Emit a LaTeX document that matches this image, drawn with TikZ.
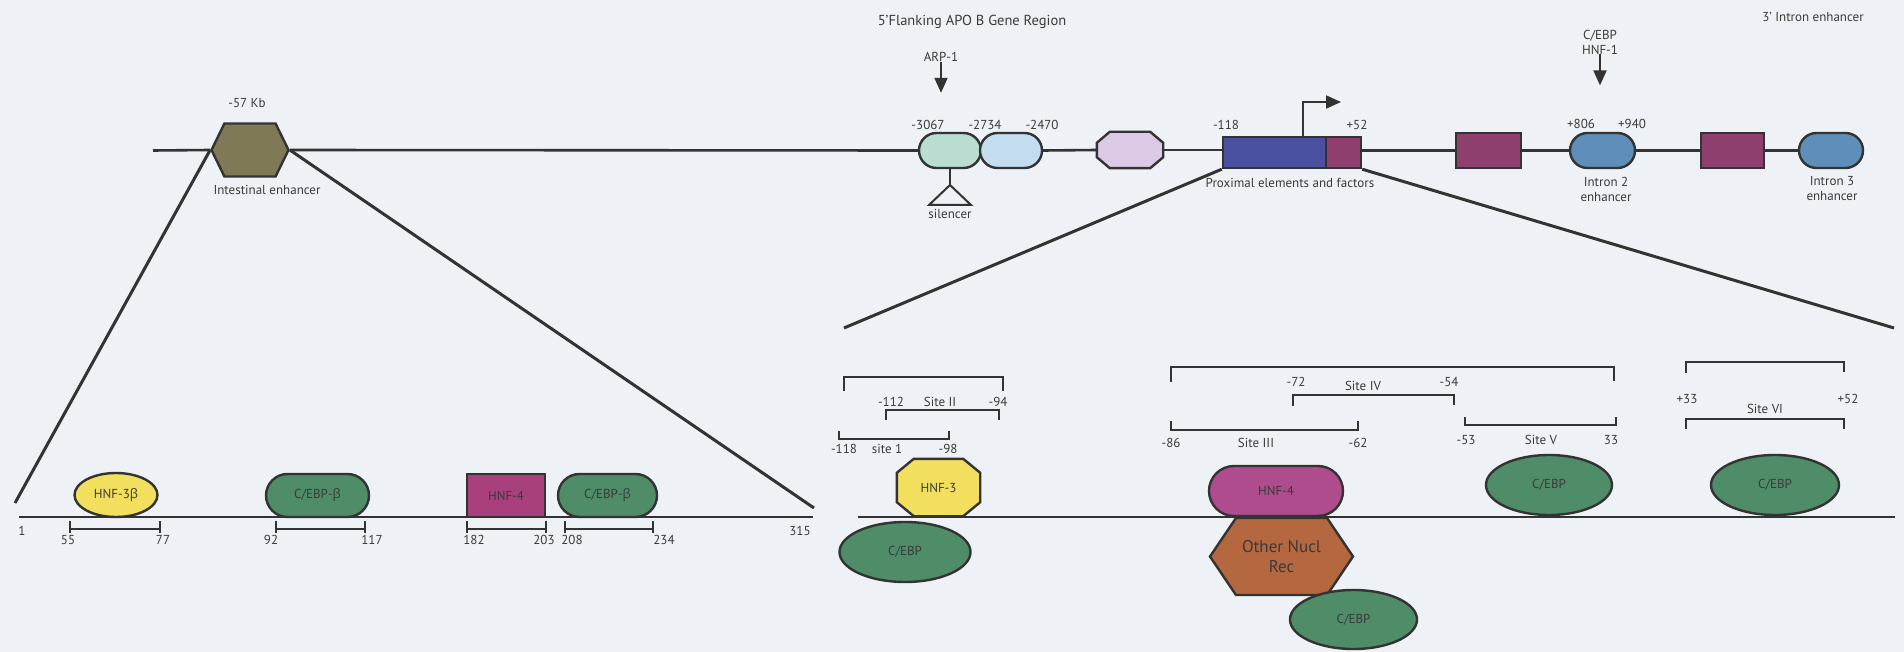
\documentclass[tikz,border=0pt]{standalone}
\usepackage{fontspec}
\setmainfont{PT Sans}
\newfontfamily\grk{Open Sans}
\usetikzlibrary{shapes.geometric,shapes.misc,shapes.symbols,arrows.meta,calc}
\definecolor{bg}{HTML}{EEF1F5}
\definecolor{ink}{HTML}{333333}
\definecolor{txt}{HTML}{3A3A3A}
\definecolor{olive}{HTML}{7F7A55}
\definecolor{mint}{HTML}{B9DDD1}
\definecolor{ltblue}{HTML}{C3DCF0}
\definecolor{lav}{HTML}{DCC9E6}
\definecolor{slate}{HTML}{4B50A0}
\definecolor{plum}{HTML}{8E3F6E}
\definecolor{steel}{HTML}{5D8FBA}
\definecolor{yel}{HTML}{F3DF5E}
\definecolor{grn}{HTML}{4F8C68}
\definecolor{mag}{HTML}{A8407E}
\definecolor{mag2}{HTML}{AF4C8D}
\definecolor{sienna}{HTML}{B5673F}
\tikzset{
  lbl/.style={font=\fontsize{13}{15}\selectfont, text=txt, inner sep=0pt, align=center},
  shp/.style={draw=ink, line width=2.4pt, inner sep=0pt, font=\fontsize{13}{15}\selectfont, text=txt},
  rbox/.style={shp, rounded rectangle},
  rect/.style={shp, rectangle},
  oval/.style={shp, ellipse},
  frame/.style={rectangle, inner sep=0pt},
  hexa/.style={shp, signal, signal to=east and west, signal pointer angle=#1},
  dna/.style={draw=ink, line width=2.6pt},
  conn/.style={draw=ink, line width=3pt},
  brk/.style={draw=ink, line width=2pt},
  arr/.style={draw=ink, line width=2pt, -{Triangle[length=15pt, width=13pt]}},
}
% octagon drawn inside the frame of a named node: name, x-chamfer, y-chamfer, fill
\newcommand{\octo}[4]{%
  \filldraw[draw=ink, line width=2.4pt, fill=#4, line join=miter]
    ($(#1.north west)+(#2,0)$) -- ($(#1.north east)+(-#2,0)$) --
    ($(#1.north east)+(0,#3)$) -- ($(#1.south east)+(0,-#3)$) --
    ($(#1.south east)+(-#2,0)$) -- ($(#1.south west)+(#2,0)$) --
    ($(#1.south west)+(0,-#3)$) -- ($(#1.north west)+(0,#3)$) -- cycle;}
\begin{document}
\begin{tikzpicture}[x=1pt, y=-1pt]
\fill[bg] (0,0) rectangle (1904,652);
\useasboundingbox (0,0) rectangle (1904,652);

% ---------- top row ----------
\node[lbl, font=\fontsize{14.5}{16}\selectfont] (ttl1) at (972,22) {5'Flanking APO B Gene Region};
\node[lbl] (ttl2) at (1813,17) {3' Intron enhancer};

\node[hexa=128, fill=olive, minimum width=77pt, minimum height=53pt] (ie) at (250,150) {};
\node[lbl] (kb) at (247,103) {-57 Kb};
\node[lbl] (iel) at (267,190) {Intestinal enhancer};

\node[rbox, fill=mint, minimum width=62pt, minimum height=35pt] (b1) at (950,150.5) {};
\node[rbox, fill=ltblue, minimum width=62pt, minimum height=35pt] (b2) at (1011,150.5) {};
\node[frame, minimum width=66pt, minimum height=36pt] (oct) at (1130,150) {};
\octo{oct}{13}{11}{lav}
\node[rect, fill=slate, minimum width=103pt, minimum height=31pt] (blue) at (1274.5,152.5) {};
\node[rect, fill=plum, minimum width=35pt, minimum height=31pt] (pl1) at (1343.5,152.5) {};
\node[rect, fill=plum, minimum width=65pt, minimum height=35pt] (pl2) at (1488.5,150.5) {};
\node[rbox, fill=steel, minimum width=65pt, minimum height=35pt] (i2) at (1602.5,150.5) {};
\node[rect, fill=plum, minimum width=63pt, minimum height=35pt] (pl3) at (1732.5,150.5) {};
\node[rbox, fill=steel, minimum width=64pt, minimum height=35pt] (i3) at (1831,150.5) {};

\node[lbl] (n3067) at (928,125) {-3067};
\node[lbl] (n2734) at (985,125) {-2734};
\node[lbl] (n2470) at (1042,125) {-2470};
\node[lbl] (n118) at (1226,125) {-118};
\node[lbl] (n52) at (1357,125) {+52};
\node[lbl] (n806) at (1581,124) {+806};
\node[lbl] (n940) at (1632,124) {+940};
\node[lbl] (prox) at (1290,183) {Proximal elements and factors};
\node[lbl] (i2l) at (1606,189) {Intron 2\\enhancer};
\node[lbl] (i3l) at (1832,189) {Intron 3\\enhancer};

\node[lbl] (arp) at (941,57) {ARP-1};
\draw[arr] (arp.south) -- ++(0,31);
\node[lbl] (hnf1) at (1600,42) {C/EBP\\HNF-1};
\draw[arr] (hnf1.south) -- ++(0,31);

\coordinate (tss) at (1303,137);
\draw[arr] (tss) -- ++(0,-35) -- ++(38,0);

\coordinate (silA) at (950,185);
\draw[draw=ink, line width=2pt] (b1.south) -- (silA);
\draw[draw=ink, line width=2pt, fill=bg] (silA) -- (929,205) -- (971,205) -- cycle;
\node[lbl] (sil) at (950,214) {silencer};

\coordinate (dL) at (153,150.5);
\draw[dna] (dL) -- (ie.west);
\draw[dna] (ie.east) -- (b1.west);
\draw[dna] (b2.east) -- (oct.west);
\draw[dna] (oct.east) -- (oct.east -| blue.west);
\draw[dna] (pl1.east |- pl2.west) -- (pl2.west);
\draw[dna] (pl2.east) -- (i2.west);
\draw[dna] (i2.east) -- (pl3.west);
\draw[dna] (pl3.east) -- (i3.west);

% ---------- zoom connectors ----------
\coordinate (zl1) at (15,503);
\coordinate (zl2) at (814,508);
\coordinate (zr1) at (844,328);
\coordinate (zr2) at (1894,328);
\draw[conn] (ie.west) -- (zl1);
\draw[conn] (ie.east) -- (zl2);
\draw[conn] (blue.south west) -- (zr1);
\draw[conn] (pl1.south east) -- (zr2);

% ---------- bottom left ----------
\node[oval, fill=yel, minimum width=83pt, minimum height=44pt] (hnf3b) at (116,495) {HNF-3{\grk β}};
\node[rbox, fill=grn, minimum width=103pt, minimum height=43pt] (ceb1) at (317.5,495.5) {C/EBP-{\grk β}};
\node[rect, fill=mag, minimum width=78pt, minimum height=43pt] (hnf4a) at (506,495.5) {HNF-4};
\node[rbox, fill=grn, minimum width=99pt, minimum height=43pt] (ceb2) at (607.5,495.5) {C/EBP-{\grk β}};
\coordinate (lb0) at (19,517);
\coordinate (lb1) at (813,517);
\draw[dna] (lb0) -- (lb1);

\foreach \a/\b in {70/160, 276/365, 467/546, 565/653}{
  \draw[brk] (\a,521) -- (\a,533) (\a,529) -- (\b,529) (\b,521) -- (\b,533);
}
\node[lbl] (l1) at (22,531) {1};
\node[lbl] (l315) at (800,531) {315};
\node[lbl] (l55) at (68,540) {55};
\node[lbl] (l77) at (163,540) {77};
\node[lbl] (l92) at (271,540) {92};
\node[lbl] (l117) at (372,540) {117};
\node[lbl] (l182) at (474,540) {182};
\node[lbl] (l203) at (544,540) {203};
\node[lbl] (l208) at (572,540) {208};
\node[lbl] (l234) at (664,540) {234};

% ---------- bottom right ----------
\node[frame, minimum width=83pt, minimum height=57pt] (hnf3) at (938.5,487.5) {};
\octo{hnf3}{17}{14}{yel}
\node[lbl] (hnf3t) at (hnf3) {HNF-3};
\node[oval, fill=grn, minimum width=131pt, minimum height=60pt] (cebA) at (905,552) {C/EBP};
\node[rbox, fill=mag2, minimum width=134pt, minimum height=50pt] (hnf4b) at (1276,491) {HNF-4};
\node[hexa=112, fill=sienna, minimum width=143pt, minimum height=77pt, font=\fontsize{17}{20}\selectfont, align=center] (onr) at (1281.5,556.5) {Other Nucl\\Rec};
\node[oval, fill=grn, minimum width=127pt, minimum height=59pt] (cebB) at (1353.5,619.5) {C/EBP};
\node[oval, fill=grn, minimum width=126pt, minimum height=60pt] (cebC) at (1549,485) {C/EBP};
\node[oval, fill=grn, minimum width=128pt, minimum height=60pt] (cebD) at (1775,485) {C/EBP};
\coordinate (rb0) at (858,517);
\coordinate (rb1) at (1895,517);
\draw[dna] (rb0) -- (rb1);

% brackets
\draw[brk] (844,391) -- (844,377) -- (1003,377) -- (1003,391);
\draw[brk] (886,420) -- (886,410) -- (999,410) -- (999,420);
\draw[brk] (839,431) -- (839,439) -- (949,439) -- (949,431);
\draw[brk] (1171,382) -- (1171,367) -- (1614,367) -- (1614,381);
\draw[brk] (1293,406) -- (1293,395) -- (1454,395) -- (1454,405);
\draw[brk] (1171,421) -- (1171,430) -- (1358,430) -- (1358,421);
\draw[brk] (1465,417) -- (1465,425) -- (1616,425) -- (1616,417);
\draw[brk] (1686,373) -- (1686,362) -- (1844,362) -- (1844,372);
\draw[brk] (1686,429) -- (1686,419) -- (1844,419) -- (1844,429);

\node[lbl] (r112) at (891,402) {-112};
\node[lbl] (rs2) at (940,402) {Site II};
\node[lbl] (r94) at (998,402) {-94};
\node[lbl] (r118) at (844,449) {-118};
\node[lbl] (rs1) at (887,449) {site 1};
\node[lbl] (r98) at (948,449) {-98};
\node[lbl] (r72) at (1296,382) {-72};
\node[lbl] (rs4) at (1363,386) {Site IV};
\node[lbl] (r54) at (1449,382) {-54};
\node[lbl] (r86) at (1171,443) {-86};
\node[lbl] (rs3) at (1256,443) {Site III};
\node[lbl] (r62) at (1358,443) {-62};
\node[lbl] (r53) at (1466,440) {-53};
\node[lbl] (rs5) at (1541,440) {Site V};
\node[lbl] (r33) at (1611,440) {33};
\node[lbl] (rp33) at (1687,399) {+33};
\node[lbl] (rp52) at (1848,399) {+52};
\node[lbl] (rs6) at (1765,409) {Site VI};
\end{tikzpicture}
\end{document}
